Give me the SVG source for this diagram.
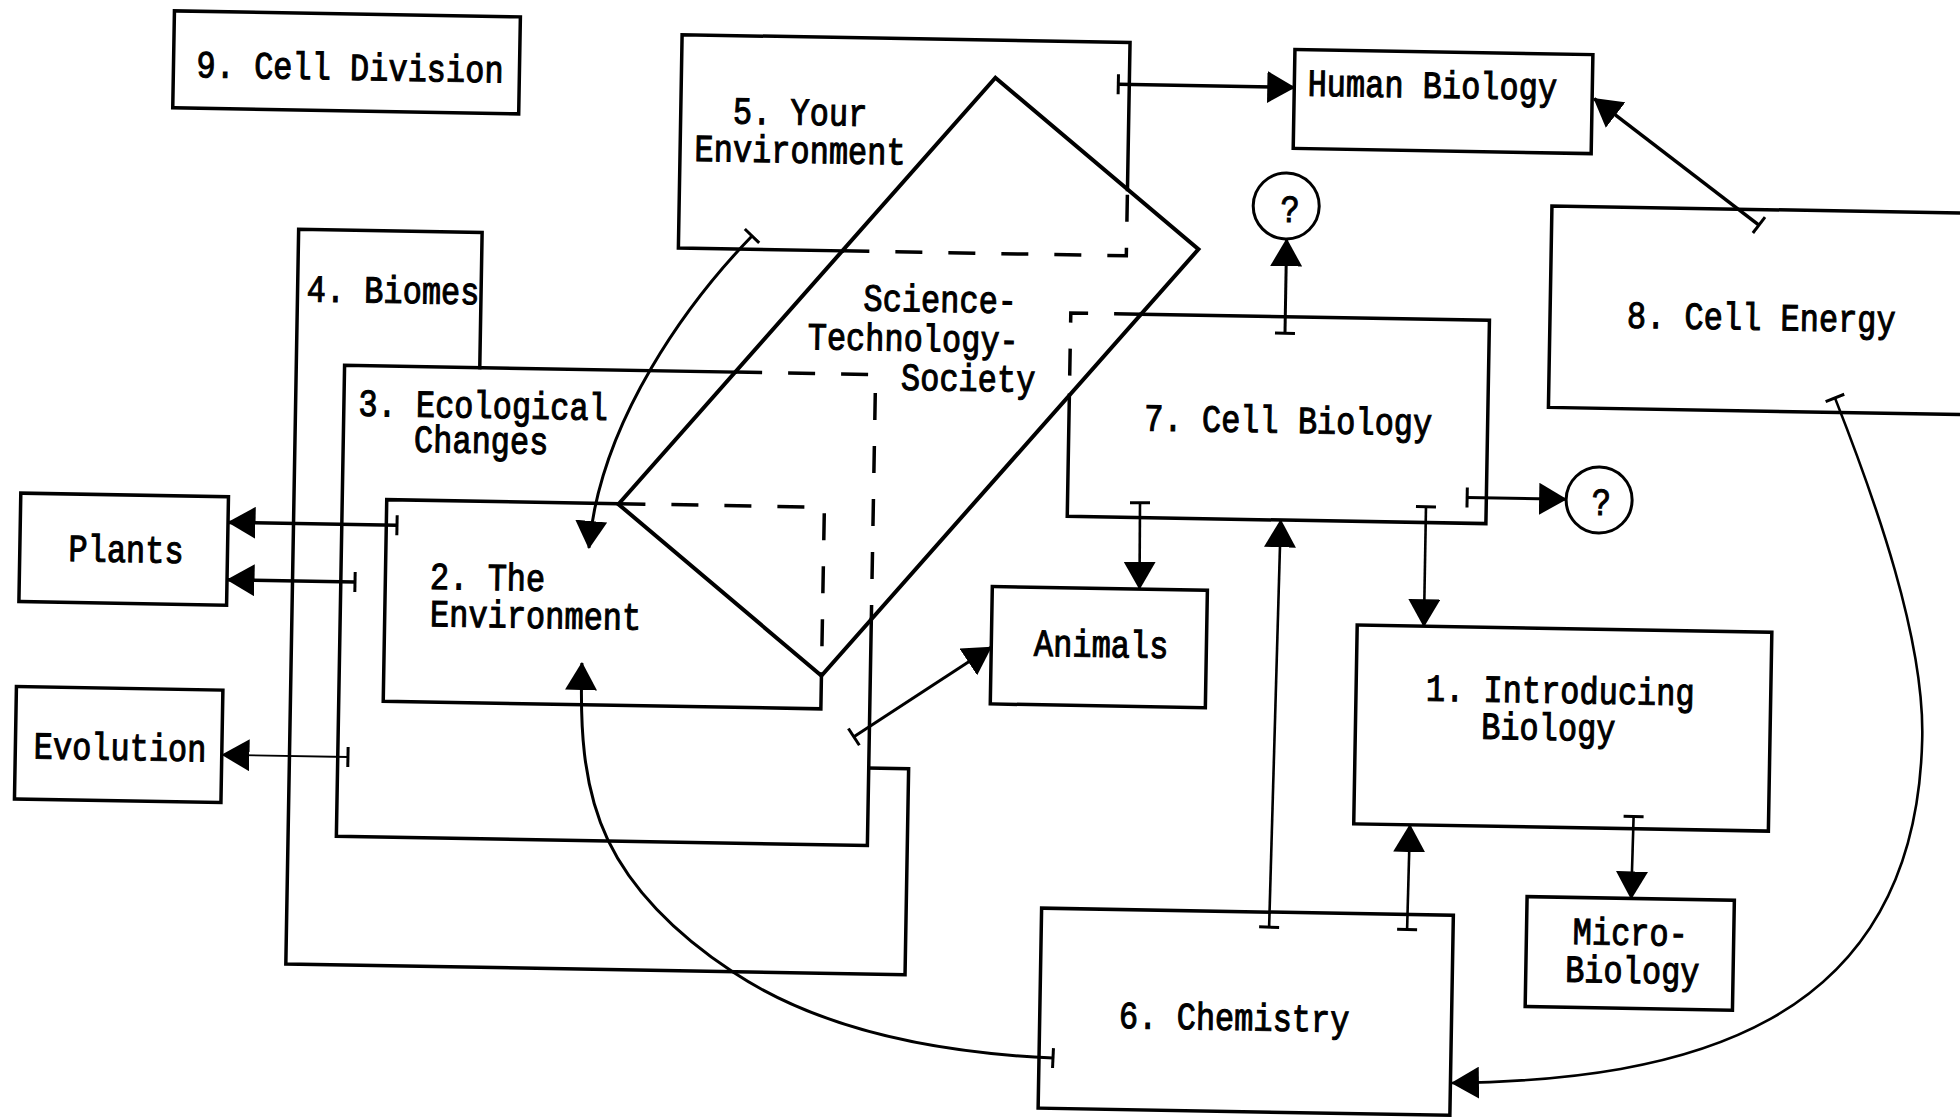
<svg xmlns="http://www.w3.org/2000/svg" width="1960" height="1118" viewBox="0 0 1960 1118">
  <style>
    .box{fill:none;stroke:#000;stroke-width:3.5;stroke-linejoin:miter;stroke-linecap:square}
    .hid{fill:none;stroke:#000;stroke-width:3.5;stroke-dasharray:27 26}
    .sts{fill:none;stroke:#000;stroke-width:4;stroke-linejoin:miter}
    .q{fill:none;stroke:#000;stroke-width:3}
    .c{fill:none;stroke:#000;stroke-width:3;marker-start:url(#tail);marker-end:url(#head)}
    .thick{stroke-width:3.5}
    .thin{stroke-width:2.6}
    .hair{stroke-width:1.8}
    text{font-family:"Liberation Mono","Courier New",monospace;font-size:32px;fill:#000;stroke:#000;stroke-width:0.9;text-anchor:middle}
  </style>
  <defs>
    <marker id="head" markerUnits="userSpaceOnUse" viewBox="0 0 28 32" refX="27" refY="16" markerWidth="28" markerHeight="32" orient="auto">
      <path d="M0,0 L28,16 L0,32 Z" fill="#000"/>
    </marker>
    <marker id="tail" markerUnits="userSpaceOnUse" viewBox="-2 -11 4 22" refX="0" refY="0" markerWidth="4" markerHeight="22" orient="auto">
      <path d="M0,-10 V10" stroke="#000" stroke-width="3"/>
    </marker>
  </defs>
  <rect width="1960" height="1118" fill="#fff"/>

  <!-- whole chart sits at a slight tilt -->
  <g transform="rotate(1 980 559)">

    <g id="cell-division">
      <rect class="box" x="165" y="25" width="346" height="97"/>
      <text transform="translate(341.6,91) scale(1,1.2)">9. Cell Division</text>
    </g>

    <g id="biomes">
      <path class="box" d="M476.5,376.4 V241.3 H293 V976 H912.3 V770 H872.4"/>
      <text transform="translate(388.5,313.2) scale(1,1.2)">4. Biomes</text>
    </g>

    <g id="ecological-changes">
      <path class="box" d="M731.9,376.4 H341.3 V847.5 H872.4 V621.2"/>
      <path class="hid" d="M731.9,376.4 H872.4 V621.2"/>
      <text transform="translate(480.5,426.7) scale(1,1.2)">3. Ecological</text>
      <text transform="translate(479.2,461.7) scale(1,1.2)">Changes</text>
    </g>

    <g id="the-environment">
      <path class="box" d="M617.5,510 H385.8 V711.6 H823.5 V678.5"/>
      <path class="hid" d="M617.5,510 H823.5 V678.5"/>
      <text transform="translate(488,598.6) scale(1,1.2)">2. The</text>
      <text transform="translate(536.7,635.8) scale(1,1.2)">Environment</text>
    </g>

    <g id="your-environment">
      <path class="box" d="M837,253.3 H673 V40 H1121 V187"/>
      <path class="hid" d="M837,253.3 H1121 V187"/>
      <text transform="translate(792.4,128) scale(1,1.2)">5. Your</text>
      <text transform="translate(793,166) scale(1,1.2)">Environment</text>
    </g>

    <g id="science-technology-society">
      <path class="sts" d="M987,77.5 L1193,245.5 L823.5,678.5 L617.5,510.5 Z"/>
      <text transform="translate(935.7,312.7) scale(1,1.2)">Science-</text>
      <text transform="translate(909.4,352.2) scale(1,1.2)">Technology-</text>
      <text transform="translate(965,391.2) scale(1,1.2)">Society</text>
    </g>

    <g id="human-biology">
      <rect class="box" x="1286" y="44" width="298" height="99"/>
      <text transform="translate(1424,90) scale(1,1.2)">Human Biology</text>
    </g>

    <g id="cell-energy">
      <path class="box" d="M2010,196 H1545.7 V397.5 H2010"/>
      <text transform="translate(1757,316.4) scale(1,1.2)">8. Cell Energy</text>
    </g>

    <g id="open-top">
      <circle class="q" cx="1280" cy="200.7" r="33"/>
      <text transform="translate(1284,216.6) scale(1,1.2)">?</text>
    </g>

    <g id="cell-biology">
      <path class="box" d="M1136.8,311.4 H1485.2 V514.8 H1066.5 V393.7"/>
      <path class="hid" d="M1136.8,311.4 H1066.5 V393.7"/>
      <text transform="translate(1285.8,427.6) scale(1,1.2)">7. Cell Biology</text>
    </g>

    <g id="open-right">
      <circle class="q" cx="1598" cy="489.2" r="33"/>
      <text transform="translate(1600.2,504.2) scale(1,1.2)">?</text>
    </g>

    <g id="animals">
      <rect class="box" x="992.8" y="586.3" width="215.1" height="117.4"/>
      <text transform="translate(1102.7,654.9) scale(1,1.2)">Animals</text>
    </g>

    <g id="introducing-biology">
      <rect class="box" x="1358.3" y="618.5" width="414.7" height="198.8"/>
      <text transform="translate(1562.5,692.9) scale(1,1.2)">1. Introducing</text>
      <text transform="translate(1551.2,730.1) scale(1,1.2)">Biology</text>
    </g>

    <g id="micro-biology">
      <rect class="box" x="1532.9" y="887" width="207.3" height="110"/>
      <text transform="translate(1636.7,933.7) scale(1,1.2)">Micro-</text>
      <text transform="translate(1639.4,971.6) scale(1,1.2)">Biology</text>
    </g>

    <g id="chemistry">
      <rect class="box" x="1047.7" y="907" width="411.8" height="200"/>
      <text transform="translate(1242.2,1025.6) scale(1,1.2)">6. Chemistry</text>
    </g>

    <g id="plants">
      <rect class="box" x="19.8" y="509.9" width="207.7" height="108.4"/>
      <text transform="translate(126,577) scale(1,1.2)">Plants</text>
    </g>

    <g id="evolution">
      <rect class="box" x="18.8" y="703.3" width="206.5" height="112.5"/>
      <text transform="translate(123.5,775) scale(1,1.2)">Evolution</text>
    </g>

    <g id="connectors">
      <path class="c thick" d="M1110,82 L1286,82"/>
      <path class="c thick" d="M1753,211.5 L1586,88"/>
      <path class="c thin" d="M1832,383 C1874,484.4 1926.4,623.5 1925.2,723.6 C1923.2,1013.7 1689.1,1067.8 1461,1074.7"/>
      <path class="c" d="M1281,328 L1281,234"/>
      <path class="c" d="M1466,489 L1565,489"/>
      <path class="c thin" d="M1139,500 L1140,586"/>
      <path class="c thin" d="M1425,499 L1425,618.5"/>
      <path class="c thin" d="M1638,805 L1637,887"/>
      <path class="c thin" d="M1413.5,922 L1414.5,817.5"/>
      <path class="c thin" d="M1275.5,922 L1280,515"/>
      <path class="c" d="M1061.7,1056.7 C951.6,1053.6 832.9,1035.5 740.2,976.3 C689.6,944 639.8,900 612.9,846.5 C586,793 582.9,730 583.8,670"/>
      <path class="c" d="M746.4,240 C685.5,305.1 597.6,426.6 588.8,554.8"/>
      <path class="c" d="M857,739 L992.5,647"/>
      <path class="c thick" d="M396.5,535.5 L228,535.5"/>
      <path class="c thick" d="M355.5,593 L228,593"/>
      <path class="c hair" d="M351.5,768 L226,768"/>
    </g>
  </g>
</svg>
